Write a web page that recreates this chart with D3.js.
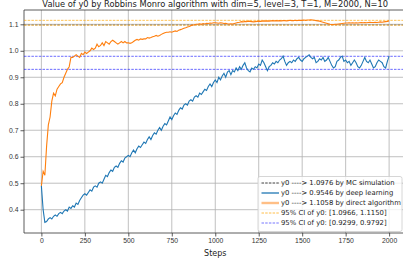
<!DOCTYPE html>
<html>
<head>
<meta charset="utf-8">
<script src="https://cdn.jsdelivr.net/npm/d3@7"></script>
<style>
  body { margin: 0; background: #fff; }
  svg { display: block; font-family: "DejaVu Sans", sans-serif; }
</style>
</head>
<body>
<div id="chart"></div>
<script>
// sample index of both runs (one value every 10 steps)
const steps = d3.range(0, 2001, 10);

const directAlgo = [
  0.49, 0.545, 0.53, 0.64, 0.72, 0.75, 0.81, 0.84, 0.83, 0.855, 0.865,
  0.875, 0.88, 0.90, 0.915, 0.93, 0.94, 0.975, 0.975, 0.98, 0.985,
  0.98, 0.975, 0.99, 0.985, 0.995, 0.99, 0.995, 1.0, 1.01, 1.005,
  1.01, 1.025, 1.015, 1.02, 1.03, 1.02, 1.035, 1.03, 1.025, 1.035,
  1.04, 1.035, 1.03, 1.025, 1.03, 1.035, 1.03, 1.035, 1.03, 1.03,
  1.028, 1.03, 1.035, 1.04, 1.043, 1.04, 1.045, 1.043, 1.045, 1.045,
  1.05, 1.048, 1.05, 1.053, 1.055, 1.058, 1.055, 1.058, 1.062, 1.065,
  1.068, 1.07, 1.07, 1.072, 1.07, 1.073, 1.075, 1.073, 1.078, 1.08,
  1.082, 1.085, 1.087, 1.09, 1.092, 1.095, 1.097, 1.098, 1.10, 1.10,
  1.102, 1.10, 1.103, 1.101, 1.104, 1.103, 1.105, 1.104, 1.106, 1.106,
  1.105, 1.104, 1.106, 1.105, 1.103, 1.104, 1.102, 1.101, 1.102, 1.101,
  1.103, 1.105, 1.107, 1.108, 1.11, 1.109, 1.111, 1.11, 1.112, 1.111,
  1.11, 1.109, 1.11, 1.111, 1.112, 1.111, 1.112, 1.113, 1.112, 1.113,
  1.112, 1.113, 1.114, 1.113, 1.114, 1.113, 1.114, 1.113, 1.114, 1.114,
  1.113, 1.114, 1.115, 1.114, 1.114, 1.115, 1.114, 1.115, 1.115, 1.115,
  1.116, 1.115, 1.116, 1.116, 1.117, 1.116, 1.115, 1.114, 1.113, 1.112,
  1.11, 1.108, 1.106, 1.104, 1.102, 1.10, 1.099, 1.099, 1.10, 1.10,
  1.101, 1.102, 1.103, 1.104, 1.105, 1.105, 1.106, 1.105, 1.106, 1.105,
  1.106, 1.105, 1.106, 1.107, 1.106, 1.107, 1.106, 1.107, 1.108, 1.107,
  1.107, 1.108, 1.107, 1.108, 1.109, 1.108, 1.109, 1.11, 1.111, 1.113
];

const deepLearning = [
  0.49, 0.40, 0.352, 0.355, 0.365, 0.37, 0.365, 0.375, 0.38, 0.375, 0.385,
  0.39, 0.385, 0.395, 0.40, 0.395, 0.41, 0.405, 0.415, 0.41, 0.425,
  0.42, 0.435, 0.445, 0.455, 0.46, 0.455, 0.465, 0.475, 0.47, 0.485,
  0.49, 0.485, 0.50, 0.505, 0.50, 0.515, 0.53, 0.525, 0.54, 0.55,
  0.545, 0.56, 0.565, 0.56, 0.575, 0.585, 0.58, 0.595, 0.60, 0.605,
  0.60, 0.615, 0.625, 0.615, 0.63, 0.64, 0.635, 0.645, 0.655, 0.65,
  0.665, 0.675, 0.665, 0.68, 0.69, 0.685, 0.70, 0.71, 0.70, 0.715,
  0.725, 0.72, 0.735, 0.75, 0.74, 0.755, 0.765, 0.76, 0.775, 0.785,
  0.78, 0.795, 0.80, 0.795, 0.81, 0.815, 0.81, 0.825, 0.83, 0.825,
  0.84, 0.835, 0.845, 0.855, 0.85, 0.865, 0.875, 0.865, 0.88, 0.89,
  0.88, 0.90, 0.89, 0.905, 0.915, 0.90, 0.92, 0.925, 0.91, 0.925,
  0.92, 0.935, 0.925, 0.94, 0.93, 0.945, 0.955, 0.935, 0.925, 0.92,
  0.935, 0.93, 0.94, 0.935, 0.95, 0.945, 0.965, 0.955, 0.94, 0.925,
  0.94, 0.945, 0.955, 0.95, 0.96, 0.955, 0.965, 0.97, 0.98, 0.96,
  0.945, 0.955, 0.96, 0.955, 0.965, 0.96, 0.97, 0.975, 0.965, 0.96,
  0.97, 0.975, 0.98, 0.985, 0.975, 0.97, 0.975, 0.955, 0.96, 0.97,
  0.965, 0.975, 0.96, 0.965, 0.975, 0.96, 0.945, 0.935, 0.94, 0.96,
  0.965, 0.975, 0.98, 0.96, 0.965, 0.955, 0.96, 0.945, 0.955, 0.965,
  0.955, 0.94, 0.935, 0.945, 0.96, 0.975, 0.96, 0.955, 0.965, 0.95,
  0.935, 0.94, 0.955, 0.965, 0.96, 0.955, 0.94, 0.935, 0.96, 0.98
];

const mcValue = 1.0976;
const ciDirect = [1.0966, 1.1150];
const ciDeep = [0.9299, 0.9792];

const xTicks = [0, 250, 500, 750, 1000, 1250, 1500, 1750, 2000];
const yTicks = [0.4, 0.5, 0.6, 0.7, 0.8, 0.9, 1.0, 1.1];

const legendLabels = [
  "y0 ----> 1.0976 by MC simulation",
  "y0 ----> 0.9546 by deep learning",
  "y0 ----> 1.1058 by direct algorithm",
  "95% CI of y0: [1.0966, 1.1150]",
  "95% CI of y0: [0.9299, 0.9792]"
];

const W = 403, H = 262;
const margin = { top: 10, right: -3.5, bottom: 29, left: 24 };
const width = W - margin.left - margin.right,
    height = H - margin.top - margin.bottom;

const svg = d3.select("#chart").append("svg")
    .attr("width", W)
    .attr("height", H);

const g = svg.append("g")
    .attr("transform", `translate(${margin.left},${margin.top})`);

const x = d3.scaleLinear().domain([-100, 2100]).range([0, width]);
const y = d3.scaleLinear().domain([0.312, 1.154]).range([height, 0]);

// grid
g.append("g").selectAll("line").data(xTicks).join("line")
    .attr("x1", d => x(d)).attr("x2", d => x(d))
    .attr("y1", 0).attr("y2", height)
    .attr("stroke", "#b0b0b0").attr("stroke-width", 0.8);
g.append("g").selectAll("line").data(yTicks).join("line")
    .attr("x1", 0).attr("x2", width)
    .attr("y1", d => y(d)).attr("y2", d => y(d))
    .attr("stroke", "#b0b0b0").attr("stroke-width", 0.8);

// axes
const xAxis = g.append("g")
    .attr("transform", `translate(0,${height})`)
    .call(d3.axisBottom(x).tickValues(xTicks).tickSize(3.5).tickPadding(2).tickFormat(d3.format("d")));
const yAxis = g.append("g")
    .call(d3.axisLeft(y).tickValues(yTicks).tickSize(3.5).tickPadding(2).tickFormat(d3.format(".1f")));
[xAxis, yAxis].forEach(a => {
    a.select(".domain").remove();
    a.selectAll("line").attr("stroke", "#333").attr("stroke-width", 0.8);
    a.selectAll("text").attr("fill", "#333").style("font-size", "6.8px");
});

// spines
g.append("line").attr("x1", 0).attr("x2", 0).attr("y1", 0).attr("y2", height)
    .attr("stroke", "#333").attr("stroke-width", 0.8);
g.append("line").attr("x1", 0).attr("x2", width).attr("y1", height).attr("y2", height)
    .attr("stroke", "#333").attr("stroke-width", 0.8);
g.append("line").attr("x1", 0).attr("x2", width).attr("y1", 0).attr("y2", 0)
    .attr("stroke", "#333").attr("stroke-width", 0.8);

// reference lines
const hline = (v, color, opacity, dash) => g.append("line")
    .attr("x1", 0).attr("x2", width)
    .attr("y1", y(v)).attr("y2", y(v))
    .attr("stroke", color).attr("stroke-opacity", opacity)
    .attr("stroke-width", 0.9).attr("stroke-dasharray", dash);

hline(mcValue, "black", 0.45, "2.5,1.2");
ciDirect.forEach(v => hline(v, "orange", 0.75, "2.5,1.2"));
ciDeep.forEach(v => hline(v, "blue", 0.65, "2.5,1.2"));

const line = d3.line()
    .x((d, i) => x(steps[i]))
    .y(d => y(d));

g.append("path").datum(directAlgo)
    .attr("fill", "none").attr("stroke", "#ff7f0e").attr("stroke-width", 1.1)
    .attr("d", line);
g.append("path").datum(deepLearning)
    .attr("fill", "none").attr("stroke", "#1f77b4").attr("stroke-width", 1.1)
    .attr("d", line);

// title and axis label
svg.append("text")
    .attr("x", margin.left + width / 2).attr("y", 7)
    .attr("text-anchor", "middle")
    .style("font-size", "8.3px").attr("fill", "#222")
    .text("Value of y0 by Robbins Monro algorithm with dim=5, level=3, T=1, M=2000, N=10");
svg.append("text")
    .attr("x", margin.left + width / 2).attr("y", 255.5)
    .attr("text-anchor", "middle")
    .style("font-size", "8px").attr("fill", "#222")
    .text("Steps");

// legend
const legendStyles = [
    { color: "black", opacity: 0.8, width: 0.9, dash: "2.5,1.2" },
    { color: "#1f77b4", opacity: 1, width: 1.3, dash: null },
    { color: "#ff7f0e", opacity: 0.5, width: 2.4, dash: null },
    { color: "orange", opacity: 0.8, width: 0.9, dash: "2.5,1.2" },
    { color: "blue", opacity: 0.6, width: 0.9, dash: "2.5,1.2" }
];

const leg = svg.append("g").attr("transform", "translate(258,176.5)");
leg.append("rect")
    .attr("width", 144).attr("height", 55).attr("rx", 2)
    .attr("fill", "white").attr("fill-opacity", 0.8)
    .attr("stroke", "#ccc").attr("stroke-width", 0.8);

const rows = leg.selectAll("g.row").data(legendLabels).join("g")
    .attr("class", "row")
    .attr("transform", (d, i) => `translate(0,${6.5 + i * 10})`);
rows.append("line")
    .attr("x1", 3.5).attr("x2", 21)
    .attr("stroke", (d, i) => legendStyles[i].color)
    .attr("stroke-opacity", (d, i) => legendStyles[i].opacity)
    .attr("stroke-width", (d, i) => legendStyles[i].width)
    .attr("stroke-dasharray", (d, i) => legendStyles[i].dash);
rows.append("text")
    .attr("x", 23).attr("y", 2.4)
    .style("font-size", "6.85px").attr("fill", "#222")
    .text(d => d);
</script>
</body>
</html>
